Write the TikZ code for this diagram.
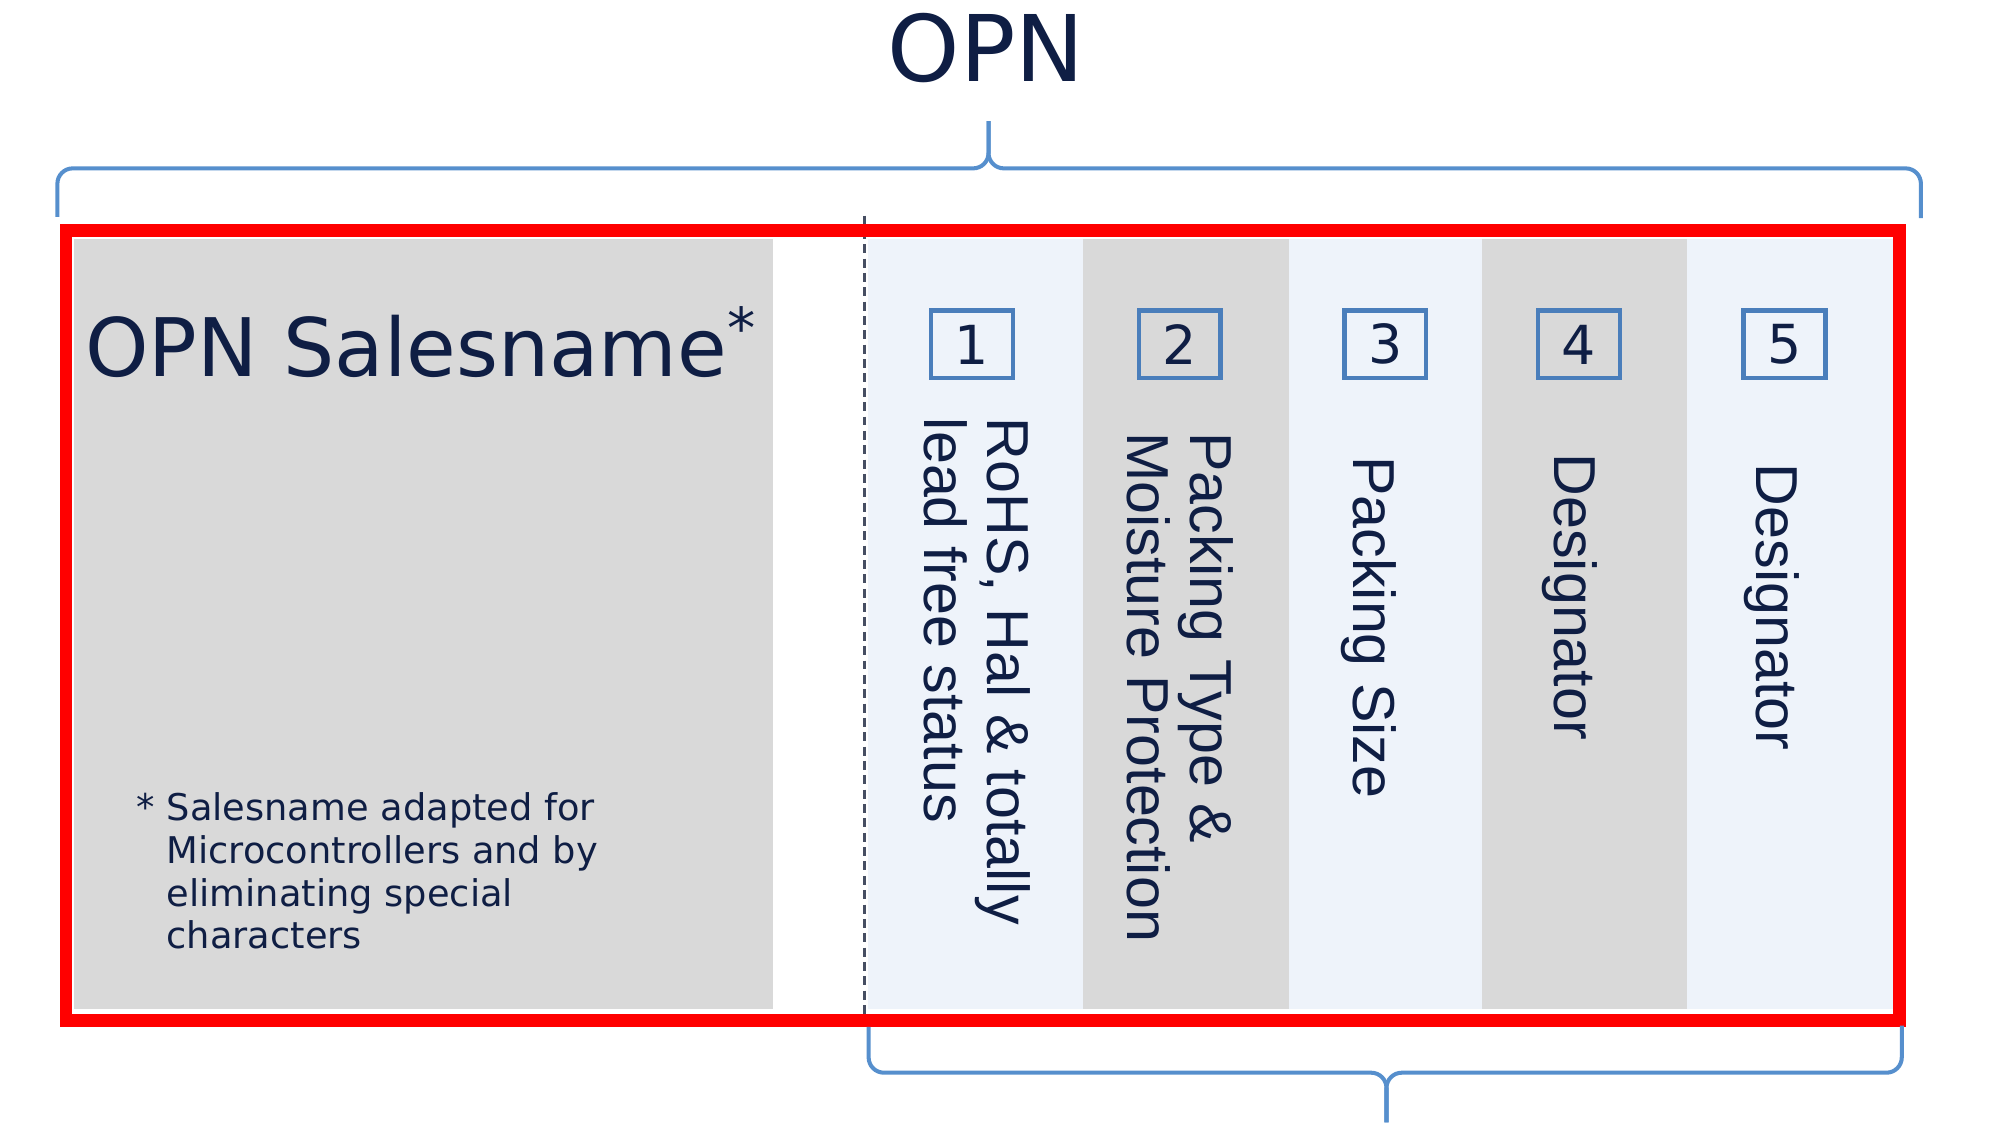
\documentclass[tikz,border=0pt]{standalone}
\usepackage{fontspec}
\usepackage{tikz}
\usepackage{xcolor}
\setmainfont{DejaVu Sans}
\newfontfamily\champfont{Liberation Sans}
\definecolor{navyopn}{RGB}{15,30,68}
\definecolor{rougecadre}{RGB}{255,0,0}
\definecolor{grisfond}{RGB}{217,217,217}
\definecolor{bleufond}{RGB}{238,243,250}
\definecolor{bleucase}{RGB}{74,126,187}
\definecolor{bleuaccolade}{RGB}{86,143,205}
\definecolor{grispointille}{RGB}{70,78,98}

\begin{document}
\begin{tikzpicture}[
		x=0.01cm, y=-0.01cm,
		colonne/.style={rectangle, inner sep=0pt, anchor=north west, minimum height=6.03cm},
		numcase/.style={rectangle,
			draw=bleucase,
			line width=1pt,
			minimum width=0.64cm,
			minimum height=0.53cm,
			inner sep=0pt,
			text=navyopn,
			font=\fontsize{12}{12}\selectfont},
		champ/.style={rotate=-90,
			anchor=west,
			inner sep=0pt,
			align=left,
			text=navyopn,
			font=\champfont\fontsize{13.2}{14}\selectfont},
		accolade/.style={draw=bleuaccolade, line width=0.9pt, rounded corners=0.12cm}
	]
	\useasboundingbox (0,0) rectangle (1568,882);

	% fonds des colonnes
	\node[colonne, fill=grisfond, minimum width=5.48cm] (salesname) at (57,187) {};
	\node[colonne, fill=bleufond, minimum width=1.68cm] (col1) at (680,187) {};
	\node[colonne, fill=grisfond, minimum width=1.62cm] (col2) at (848,187) {};
	\node[colonne, fill=bleufond, minimum width=1.51cm] (col3) at (1010,187) {};
	\node[colonne, fill=grisfond, minimum width=1.61cm] (col4) at (1161,187) {};
	\node[colonne, fill=bleufond, minimum width=1.62cm] (col5) at (1322,187) {};

	\coordinate (coupure) at (678,169);
	\draw[grispointille, line width=0.6pt, dash pattern=on 2pt off 1.2pt] (coupure) -- (678,800);

	% cadre rouge
	\node[rectangle,
		draw=rougecadre,
		line width=2.8pt,
		minimum width=14.37cm,
		minimum height=6.19cm,
		inner sep=0pt] (cadre) at (770.5,490.5) {};

	\foreach \n/\x in {1/762,2/925,3/1086,4/1238,5/1399}
		\node[numcase] (case\n) at (\x,270) {\n};

	\node[champ] (champ1) at (766,327) {RoHS, Hal \& totally\\lead free status};
	\node[champ] (champ2) at (925,338) {Packing Type \&\\Moisture Protection};
	\node[champ] (champ3) at (1073,357) {Packing Size};
	\node[champ] (champ4) at (1231,355) {Designator};
	\node[champ] (champ5) at (1389,363) {Designator};

	\node[text=navyopn, font=\fontsize{20.5}{24}\selectfont, inner sep=0pt, anchor=base] (titre) at (773,64) {OPN};
	\node[text=navyopn, font=\fontsize{18}{22}\selectfont, inner sep=0pt, anchor=base west] (nom) at (66,295) {OPN Salesname\textsuperscript{*}};
	\node[text=navyopn,
		font=\fontsize{8.2}{9.5}\selectfont,
		inner sep=0pt,
		anchor=south west,
		align=left] (note) at (130,745) {\llap{* }Salesname adapted for\\Microcontrollers and by\\eliminating special\\characters};

	% accolades
	\coordinate (opn-g) at (45,170);
	\coordinate (opn-d) at (1506,171);
	\coordinate (opn-m) at (775,132);
	\coordinate (opn-p) at (775,95);
	\draw[accolade] (opn-g) |- (opn-m) -- (opn-p);
	\draw[accolade] (opn-d) |- (opn-m) -- (opn-p);

	\coordinate (code-g) at (681,805);
	\coordinate (code-d) at (1491,804);
	\coordinate (code-m) at (1087,841);
	\coordinate (code-p) at (1087,880);
	\draw[accolade] (code-g) |- (code-m) -- (code-p);
	\draw[accolade] (code-d) |- (code-m) -- (code-p);
\end{tikzpicture}
\end{document}
